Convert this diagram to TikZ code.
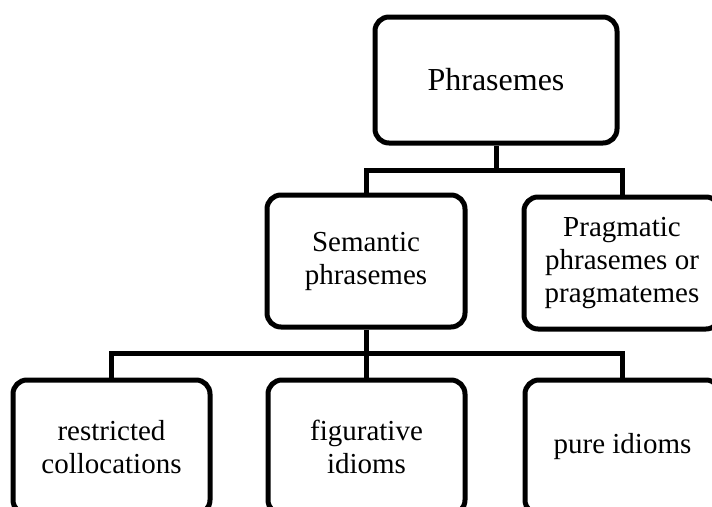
\documentclass[tikz,border=0pt]{standalone}
\usepackage{fontspec}
\setmainfont{Liberation Serif}
\begin{document}
\begin{tikzpicture}[x=1pt,y=-1pt,
  box/.style={draw=black, line width=5pt, rounded corners=14pt, align=center,
    inner sep=0pt, font=\fontsize{29}{33}\selectfont},
  conn/.style={draw=black, line width=5pt}]
\useasboundingbox (0,0) rectangle (712,506);
\clip (0,0) rectangle (712,506);
\node[box, minimum width=242pt, minimum height=126pt, font=\fontsize{32}{36}\selectfont] (ph) at (496,80) {Phrasemes};
\node[box, minimum width=198pt, minimum height=132pt] (sem) at (366,261) {Semantic\\phrasemes};
\node[box, minimum width=196pt, minimum height=132pt] (prag) at (622,263) {Pragmatic\\phrasemes or\\pragmatemes};
\node[box, minimum width=197pt, minimum height=134pt] (rc) at (111.5,447) {restricted\\collocations};
\node[box, minimum width=197pt, minimum height=134pt] (fi) at (366.5,447) {figurative\\idioms};
\node[box, minimum width=195pt, minimum height=134pt] (pi) at (622.5,447) {pure idioms};
\coordinate (bar1) at (0,170);
\coordinate (bar2) at (0,353);
\draw[conn] (ph.south) -- (ph.south |- bar1);
\draw[conn] (sem.north) -- (sem.north |- bar1) -- (prag.north |- bar1) -- (prag.north);
\draw[conn] (sem.south) -- (sem.south |- bar2);
\draw[conn] (rc.north) -- (rc.north |- bar2) -- (pi.north |- bar2) -- (pi.north);
\draw[conn] (fi.north) -- (fi.north |- bar2);
\end{tikzpicture}
\end{document}
